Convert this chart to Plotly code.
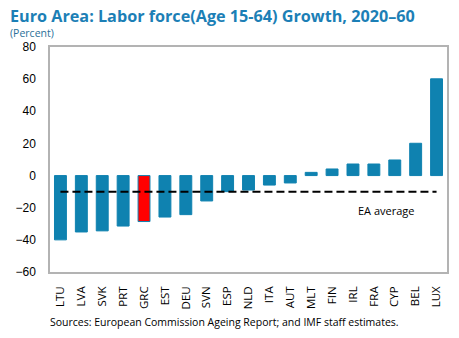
import plotly.graph_objects as go

countries = ["LTU", "LVA", "SVK", "PRT", "GRC", "EST", "DEU", "SVN", "ESP", "NLD",
             "ITA", "AUT", "MLT", "FIN", "IRL", "FRA", "CYP", "BEL", "LUX"]
growth = [-40.0, -35.1, -34.4, -31.4, -28.6, -25.8, -24.3, -15.8, -10.0, -9.0,
          -5.9, -4.6, 2.0, 4.1, 7.2, 7.2, 9.7, 20.1, 60.2]
ea_average = -10.0
highlight = "GRC"
y_ticks = [-60, -40, -20, 0, 20, 40, 60, 80]

BLUE = "#0f82b0"
RED = "#ff0000"
GRAY = "#b3b3b3"
FONT = "Open Sans"

colors = [RED if c == highlight else BLUE for c in countries]

fig = go.Figure()
fig.add_trace(go.Bar(
    x=countries, y=growth,
    marker=dict(color=colors, line=dict(color=BLUE, width=1)),
    width=0.57,
    showlegend=False,
    hoverinfo="x+y",
))

n = len(countries)
fig.add_shape(type="line", xref="x", yref="y",
              x0=0, x1=n - 1, y0=ea_average, y1=ea_average,
              line=dict(color="black", width=2, dash="8px,4px"), layer="above")

fig.add_annotation(x=15.6, y=-22, xref="x", yref="y", text="EA average",
                   showarrow=False, font=dict(family=FONT, size=11, color="black"))

fig.add_annotation(x=0, y=1, xref="paper", yref="paper", xanchor="left", yanchor="middle",
                   xshift=-42, yshift=31,
                   text="<b>Euro Area: Labor force(Age 15-64) Growth, 2020–60</b>",
                   showarrow=False, font=dict(family=FONT, size=16.2, color="#1c7fb6"))
fig.add_annotation(x=0, y=1, xref="paper", yref="paper", xanchor="left", yanchor="middle",
                   xshift=-42, yshift=14, text="(Percent)",
                   showarrow=False, font=dict(family=FONT, size=10.5, color="#2a6f99"))
fig.add_annotation(x=0.5, y=0, xref="paper", yref="paper", xanchor="center", yanchor="middle",
                   yshift=-50, xshift=-24,
                   text="Sources: European Commission Ageing Report; and IMF staff estimates.",
                   showarrow=False, font=dict(family=FONT, size=10.5, color="black"))

fig.update_layout(
    width=459, height=338,
    margin=dict(l=50, r=10, t=47, b=66),
    paper_bgcolor="white", plot_bgcolor="white",
    bargap=0.43,
    xaxis=dict(
        type="category", range=[-0.5, n - 0.5],
        showline=True, linecolor=GRAY, linewidth=1.5, mirror=True,
        showgrid=False, ticks="outside", ticklen=8, tickcolor="rgba(0,0,0,0)",
        tickangle=-90, tickfont=dict(family=FONT, size=11.5, color="black"),
    ),
    xaxis2=dict(
        overlaying="x", anchor="free", position=60 / 140, side="bottom",
        range=[-0.5, n - 0.5], showline=True, linecolor=GRAY, linewidth=1.5,
        showgrid=False, zeroline=False,
        tickmode="array", tickvals=[i + 0.5 for i in range(n - 1)],
        ticks="inside", ticklen=4, tickcolor=GRAY, tickwidth=1.5,
        showticklabels=False,
    ),
    yaxis=dict(
        range=[-60, 80], tickvals=y_ticks,
        showline=True, linecolor=GRAY, linewidth=1.5, mirror=True,
        showgrid=False, zeroline=False,
        ticks="outside", ticklen=10, tickcolor="rgba(0,0,0,0)",
        tickfont=dict(family="Liberation Sans", size=12, color="black"),
    ),
)

fig.write_html("out.html")
